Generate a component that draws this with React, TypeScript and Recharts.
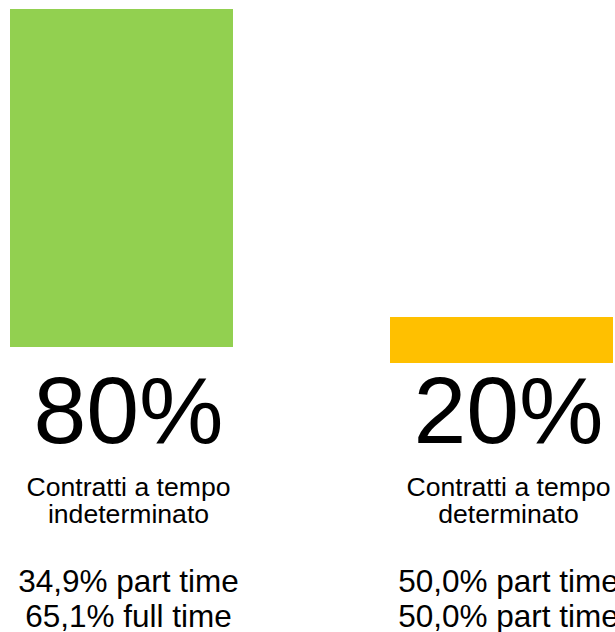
import React from 'react';
import { BarChart, Bar, XAxis, YAxis, Cell } from 'recharts';

const categories = ['indeterminato', 'determinato'];
const shares = [80, 20];
const labelLine1 = ['Contratti a tempo', 'Contratti a tempo'];
const labelLine2 = ['indeterminato', 'determinato'];
const detailLine1 = ['34,9% part time', '50,0% part time'];
const detailLine2 = ['65,1% full time', '50,0% part time'];
const barBase = [4.5, 0];
const barTop = [100, 13];
const colors = ['#92D050', '#FFC000'];

const data = categories.map((name, i) => ({
  name,
  range: [barBase[i], barTop[i]],
}));

const FONT = '"Liberation Sans", Arial, Helvetica, sans-serif';

const Tick = (props: any) => {
  const { x, y, payload } = props;
  const i = categories.indexOf(payload.value);
  const cx = x + 7.5;
  return (
    <g fontFamily={FONT} fill="#000">
      <text x={cx} y={y + 80} textAnchor="middle" fontSize={95}>
        {shares[i] + '%'}
      </text>
      <text x={cx} y={y + 133} textAnchor="middle" fontSize={26.6}>
        {labelLine1[i]}
      </text>
      <text x={cx} y={y + 160} textAnchor="middle" fontSize={26.6}>
        {labelLine2[i]}
      </text>
      <text x={cx} y={y + 229} textAnchor="middle" fontSize={31.5}>
        {detailLine1[i]}
      </text>
      <text x={cx} y={y + 264} textAnchor="middle" fontSize={31.5}>
        {detailLine2[i]}
      </text>
    </g>
  );
};

export default function App() {
  return (
    <div
      style={{
        position: 'fixed',
        left: 0,
        top: 0,
        width: 615,
        height: 632,
        overflow: 'hidden',
        background: '#fff',
      }}
    >
      <div style={{ marginLeft: -69 }}>
        <BarChart
          width={760}
          height={632}
          data={data}
          margin={{ top: 9, right: 0, bottom: 0, left: 0 }}
          barCategoryGap={0}
        >
          <XAxis
            dataKey="name"
            height={269}
            axisLine={false}
            tickLine={false}
            tickSize={0}
            tickMargin={0}
            interval={0}
            tick={<Tick />}
          />
          <YAxis hide domain={[0, 100]} />
          <Bar dataKey="range" barSize={223} isAnimationActive={false}>
            {data.map((d, i) => (
              <Cell key={d.name} fill={colors[i]} />
            ))}
          </Bar>
        </BarChart>
      </div>
    </div>
  );
}
